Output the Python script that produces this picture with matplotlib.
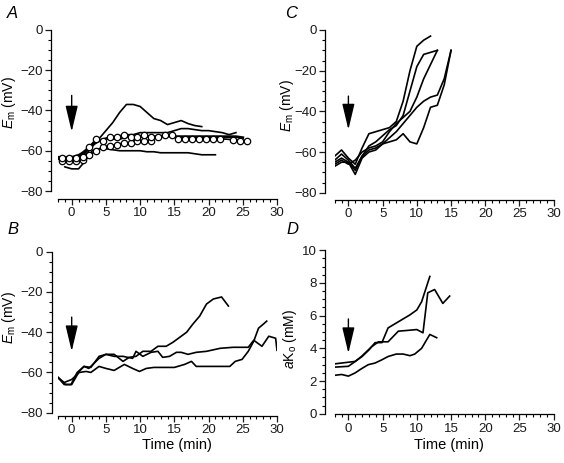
import matplotlib
matplotlib.use('Agg')
import matplotlib.pyplot as plt
from matplotlib.ticker import MultipleLocator

plt.rcParams['font.family'] = ['Liberation Sans', 'DejaVu Sans']
plt.rcParams['mathtext.fontset'] = 'custom'
plt.rcParams['mathtext.rm'] = 'Liberation Sans'
plt.rcParams['mathtext.it'] = 'Liberation Sans:italic'

# ---- panel A : Em (mV) ----
a_circ1_x = [-1.4, -0.4, 0.6, 1.6, 2.6, 3.6, 4.6, 5.6, 6.6, 7.6, 8.6, 9.6, 10.6, 11.6,
             12.6, 13.6, 14.6, 15.6, 16.6, 17.6, 18.6, 19.6, 20.6, 21.6, 23.6, 24.6, 25.6]
a_circ1_y = [-63.5, -63.5, -63.5, -63, -58, -54, -55, -53, -53, -52, -53, -53, -52, -53,
             -53, -52, -52, -54, -54, -54, -54, -54, -54, -54, -54.5, -55, -55]
a_circ2_x = [-1.4, -0.4, 0.6, 1.6, 2.6, 3.6, 4.6, 5.6, 6.6, 7.6, 8.6, 9.6, 10.6, 11.6]
a_circ2_y = [-65, -65, -65, -64.5, -62, -60, -58, -57.5, -57, -56, -56, -55, -55, -55]
a_peak_x = list(range(-2, 20))
a_peak_y = [-63, -63, -63, -63, -62, -58, -54, -50, -46, -41, -37, -37, -38, -41,
            -44, -45, -47, -46, -45, -46.5, -47.5, -48]
a_low_x = list(range(-1, 22))
a_low_y = [-68, -69, -69, -65, -60, -59, -59, -59.5, -60, -60, -60, -60, -60.5, -60.5,
           -61, -61, -61, -61, -61, -61.5, -62, -62, -62]
a_mid_x = list(range(-2, 25))
a_mid_y = [-63, -63, -63, -62, -60, -57, -55, -54, -53, -53, -52, -52, -51, -51, -51,
           -51, -51, -50, -49, -49, -49.5, -50, -50, -50.5, -51, -52, -51]
a_flat_x = list(range(-2, 26))
a_flat_y = [-64, -64, -64, -63, -60, -57, -55, -54, -54, -54, -53, -53, -53, -53, -53,
            -53, -52.5, -53, -53, -53, -53, -53, -53, -53, -53, -53, -53, -53.5]

# ---- panel B : Em (mV) ----
b1_x = [-2, -1.1, -0.1, 0.8, 1.8, 2.8, 4, 5, 6.2, 7.5, 8.4, 9.4, 10.4, 11.6, 12.6,
        13.8, 14.8, 16, 16.8, 17.7, 18.7, 19.7, 20.7, 21.9, 22.9]
b1_y = [-62.5, -66, -66, -60, -57, -57.5, -52, -51, -51, -54.5, -52.5, -52, -49.5,
        -49.5, -47, -47, -45, -42, -40, -36, -32, -26, -23.5, -22.5, -27]
b2_x = [-2, -1.1, 0, 1.1, 2.1, 2.8, 4, 5, 6.2, 7.7, 8.9, 9.9, 10.9, 12, 13, 14, 15,
        16.5, 17.5, 18.2, 19.7, 21.7, 23.1, 23.9, 24.9, 25.8, 26.6, 27.3, 28, 28.5]
b2_y = [-62.5, -65, -63.5, -60, -59.5, -60, -57, -58, -59, -56, -58, -59.5, -58,
        -57.5, -57.5, -57.5, -57.5, -56, -54.5, -57, -57, -57, -57, -54.5, -53.5,
        -49.5, -44.5, -38, -36, -34.5]
b3_x = [-2, -0.9, 0, 1.1, 1.8, 2.5, 4, 5, 6.2, 7.5, 8.9, 9.4, 10.4, 11.6, 12.6, 13.3,
        14.3, 15.3, 16, 17, 18.2, 19.7, 21.7, 23.6, 25.8, 26.6, 27.8, 28.8, 29.8, 30]
b3_y = [-62.5, -66, -66, -59.5, -57, -58, -53, -51, -52, -52, -53, -49.5, -52, -50,
        -49.5, -52.5, -52, -50, -50, -51, -50, -49.5, -48, -47.5, -47.5, -44, -47,
        -42, -43, -49]

# ---- panel C : Em (mV) ----
c1_x = list(range(-2, 13))
c1_y = [-62, -59, -63, -66, -58, -51, -50, -49, -48, -45, -35, -20, -8, -5, -3]
c2_x = list(range(-2, 14))
c2_y = [-64, -61, -64, -68, -62, -57, -55, -52, -49, -47, -42, -30, -18, -12, -11, -10]
c3_x = list(range(-2, 14))
c3_y = [-66, -64, -66, -64, -60, -58, -57, -55, -50, -46, -43, -40, -33, -24, -17, -10]
c4_x = list(range(-2, 16))
c4_y = [-65, -63, -65, -69, -62, -59, -58, -56, -53, -50, -46, -42, -38, -35, -33,
        -32, -24, -10]
c5_x = list(range(-2, 16))
c5_y = [-67, -65, -65, -71, -63, -60, -59, -56, -55, -54, -51, -55, -56, -48, -38,
        -37, -27, -10]

# ---- panel D : aKo (mM) ----
d1_x = [-2, 0, 1, 2, 3, 3.9, 4.9, 5.8, 6.8, 7.8, 9, 10, 10.7, 11.9]
d1_y = [3.05, 3.15, 3.2, 3.5, 3.9, 4.35, 4.35, 5.25, 5.5, 5.75, 6.05, 6.35, 6.85, 8.4]
d2_x = [-2, 0, 1, 1.9, 3.4, 4.4, 5.8, 7.3, 8.7, 10, 10.9, 11.6, 12.6, 13.8, 14.8]
d2_y = [2.85, 2.9, 3.2, 3.5, 4.1, 4.4, 4.4, 5.05, 5.1, 5.15, 4.95, 7.4, 7.6, 6.75, 7.2]
d3_x = [-2, -1, 0, 1, 1.9, 2.9, 3.9, 4.9, 5.8, 7, 8, 9, 9.7, 10.7, 11.9, 12.9]
d3_y = [2.35, 2.4, 2.3, 2.5, 2.75, 3.0, 3.1, 3.3, 3.5, 3.65, 3.65, 3.55, 3.65, 4.0,
        4.85, 4.65]

W, H = 564, 463
fig = plt.figure(figsize=(W / 100, H / 100), dpi=100)


def make_axes(l, r, t, b, left_out, bottom_out, ylim, ymajor, yminor):
    ax = fig.add_axes([l / W, 1 - b / H, (r - l) / W, (b - t) / H])
    ax.set_xlim(-2, 30)
    ax.set_ylim(*ylim)
    for s in ['top', 'right']:
        ax.spines[s].set_visible(False)
    ax.spines['left'].set_position(('outward', left_out * 0.72))
    ax.spines['bottom'].set_position(('outward', bottom_out * 0.72))
    ax.spines['left'].set_linewidth(0.9)
    ax.spines['bottom'].set_linewidth(0.9)
    ax.xaxis.set_major_locator(MultipleLocator(5))
    ax.xaxis.set_minor_locator(MultipleLocator(1))
    ax.yaxis.set_major_locator(MultipleLocator(ymajor))
    ax.yaxis.set_minor_locator(MultipleLocator(yminor))
    ax.tick_params(which='major', length=4.5, width=0.9, labelsize=9.5,
                   colors='#1a1a1a', pad=1.5)
    ax.tick_params(which='minor', length=2.5, width=0.8)
    ax.patch.set_alpha(0)
    return ax


def arrow(ax, y0, y1):
    ax.annotate('', xy=(0, y1), xytext=(0, y0),
                arrowprops=dict(arrowstyle='-|>,head_length=1.6,head_width=0.38',
                                color='black', lw=1.0, mutation_scale=10,
                                shrinkA=0, shrinkB=0))


lw = 1.2
em_label = r'$E_{\rm m}$ (mV)'

# A
axA = make_axes(58, 277, 30, 191, 7, 8, (-80, 0), 20, 5)
axA.plot(a_peak_x, a_peak_y, color='black', lw=lw)
axA.plot(a_low_x, a_low_y, color='black', lw=lw)
axA.plot(a_mid_x, a_mid_y, color='black', lw=lw)
axA.plot(a_flat_x, a_flat_y, color='black', lw=2.0)
axA.plot(a_circ2_x, a_circ2_y, color='black', lw=lw, marker='o', ms=4.6,
         mfc='white', mec='black', mew=0.9)
axA.plot(a_circ1_x, a_circ1_y, color='black', lw=lw, marker='o', ms=4.6,
         mfc='white', mec='black', mew=0.9)
arrow(axA, -32.5, -50.5)

# C
axC = make_axes(334.7, 553.7, 30, 192.7, 9.4, 7.3, (-80, 0), 20, 5)
for xs, ys in [(c1_x, c1_y), (c2_x, c2_y), (c3_x, c3_y), (c4_x, c4_y), (c5_x, c5_y)]:
    axC.plot(xs, ys, color='black', lw=lw)
arrow(axC, -32.5, -49)

# B
axB = make_axes(58, 277, 251.7, 412.7, 6.3, 3.3, (-80, 0), 20, 5)
for xs, ys in [(b1_x, b1_y), (b2_x, b2_y), (b3_x, b3_y)]:
    axB.plot(xs, ys, color='black', lw=lw)
arrow(axB, -32.5, -49.5)

# D
axD = make_axes(334.7, 553.7, 250.3, 413.7, 9.4, 0.6, (0, 10), 2, 0.5)
for xs, ys in [(d1_x, d1_y), (d2_x, d2_y), (d3_x, d3_y)]:
    axD.plot(xs, ys, color='black', lw=lw)
arrow(axD, 5.8, 3.7)

# labels
fig.text(9 / W, 1 - 103 / H, em_label, rotation=90, ha='center', va='center',
         fontsize=10)
fig.text(287 / W, 1 - 106 / H, em_label, rotation=90, ha='center', va='center',
         fontsize=10)
fig.text(9 / W, 1 - 318 / H, em_label, rotation=90, ha='center', va='center',
         fontsize=10)
fig.text(290 / W, 1 - 339 / H, r'$a$K$_{\rm o}$ (mM)', rotation=90, ha='center',
         va='center', fontsize=10)
fig.text(177 / W, 1 - 438 / H, 'Time (min)', ha='center', va='top', fontsize=10.5)
fig.text(449 / W, 1 - 438 / H, 'Time (min)', ha='center', va='top', fontsize=10.5)

for letter, x, y in [('A', 7, 14), ('C', 285, 14), ('B', 7, 229), ('D', 286, 229)]:
    fig.text(x / W, 1 - y / H, letter, style='italic', fontsize=12,
             ha='left', va='center')

fig.savefig('out.png', dpi=100)
